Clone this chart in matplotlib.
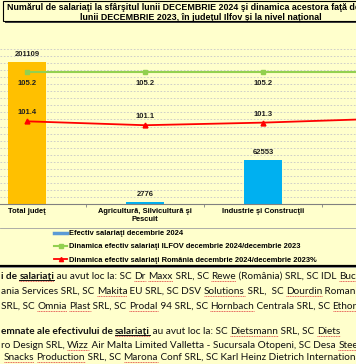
import numpy as np
import matplotlib
matplotlib.use("Agg")
import matplotlib.pyplot as plt
from matplotlib.patches import Rectangle
from matplotlib.lines import Line2D

# date
categorii = ["Total judeţ", "Agricultură, Silvicultură şi\nPescuit",
             "Industrie şi Construcţii", "Servicii"]
efectiv_2024 = [201109, 2776, 62553, 135780]
dinamica_ilfov = [105.2, 105.2, 105.2, 105.2]
dinamica_romania = [101.4, 101.1, 101.3, 101.6]

titlu = ["Numărul de salariaţi la sfârşitul lunii DECEMBRIE 2024 şi dinamica acestora faţă de",
         "lunii DECEMBRIE 2023, în judeţul Ilfov şi la nivel naţional"]
legenda = ["Efectiv salariaţi decembrie 2024",
           "Dinamica efectiv salariaţi ILFOV decembrie 2024/decembrie 2023",
           "Dinamica efectiv salariaţi România decembrie 2024/decembrie 2023%"]

# text din document: (text, bold, subliniat, corector)
randuri = [
    [("i de ", 1, 0, 0), ("salariaţi", 1, 1, 1), (" au avut loc la: SC ", 0, 0, 0), ("Dr", 0, 0, 1),
     (" ", 0, 0, 0), ("Maxx", 0, 0, 1), (" SRL, SC ", 0, 0, 0), ("Rewe", 0, 0, 1),
     (" (România) SRL, SC IDL ", 0, 0, 0), ("Buch", 0, 0, 1)],
    [("ania Services SRL, SC ", 0, 0, 0), ("Makita", 0, 0, 1), (" EU SRL, SC DSV ", 0, 0, 0),
     ("Solutions", 0, 0, 1), (" SRL,  SC ", 0, 0, 0), ("Dourdin", 0, 0, 1), (" Romani", 0, 0, 0)],
    [("SRL, SC ", 0, 0, 0), ("Omnia", 0, 0, 1), (" ", 0, 0, 0), ("Plast", 0, 0, 1),
     (" SRL, SC ", 0, 0, 0), ("Prodal", 0, 0, 1), (" 94 SRL, SC ", 0, 0, 0), ("Hornbach", 0, 0, 1),
     (" Centrala SRL, SC ", 0, 0, 0), ("Ethor", 0, 0, 1), (" Se", 0, 0, 0)],
    [("emnate ale efectivului de ", 1, 0, 0), ("salariaţi", 1, 1, 1), (" au avut loc la: SC ", 0, 0, 0),
     ("Dietsmann", 0, 0, 1), (" SRL, SC ", 0, 0, 0), ("Diets", 0, 0, 1)],
    [("ro Design SRL, ", 0, 0, 0), ("Wizz", 0, 0, 1),
     (" Air Malta Limited Valletta - Sucursala Otopeni, SC Desa ", 0, 0, 0), ("Steel", 0, 0, 1)],
    [(" ", 0, 0, 0), ("Snacks", 0, 0, 1), (" ", 0, 0, 0), ("Production", 0, 0, 1),
     (" SRL, SC ", 0, 0, 0), ("Marona", 0, 0, 1), (" Conf SRL, SC Karl Heinz Dietrich International", 0, 0, 0)],
]
baze = [279, 294, 309, 334, 348, 360]

W, H = 356, 364
fond = "#FFFFCC"
fig = plt.figure(figsize=(W / 100, H / 100), dpi=100, facecolor=fond)
renderer = fig.canvas.get_renderer()

bg = fig.add_axes([0, 0, 1, 1], zorder=0)
bg.set_xlim(0, W)
bg.set_ylim(H, 0)
bg.axis("off")

# caseta titlu
bg.add_patch(Rectangle((5, 3), 400, 20, facecolor="#404040", edgecolor="none"))
bg.add_patch(Rectangle((3, 1), 400, 20, facecolor=fond, edgecolor="black", lw=0.8))
bg.text(7, 8, titlu[0], ha="left", va="center", fontsize=6.4,
        fontweight="bold", family="Liberation Sans")
bg.text(201, 17.3, titlu[1], ha="center", va="center", fontsize=6.4,
        fontweight="bold", family="Liberation Sans")

# linii chenar grafic
bg.plot([0, W], [227.5, 227.5], color="#A0A0A0", lw=0.6)
bg.plot([0, W], [265.5, 265.5], color="black", lw=1.6)
bg.plot([0, W], [267.3, 267.3], color="#909090", lw=0.7)

# grafic
ax = fig.add_axes([0, (H - 204) / H, 1, 155 / H])
ax.set_zorder(2)
ax.patch.set_visible(False)
x = np.arange(len(categorii))
culori = ["#FFC000"] + ["#00B0F0"] * (len(categorii) - 1)
bare = ax.bar(x, efectiv_2024, width=0.314, color=culori, zorder=2)
ax.set_ylim(0, 220000)
ax.set_yticks(np.arange(0, 220001, 10000))
ax.tick_params(axis="y", length=0, labelleft=False)
ax.grid(axis="y", color="#C8C8C8", ls=(0, (2, 2)), lw=0.6, zorder=0)
ax.set_axisbelow(True)
for s in ["top", "left", "right"]:
    ax.spines[s].set_visible(False)
ax.spines["bottom"].set_color("#808080")
ax.spines["bottom"].set_linewidth(0.8)
ax.set_xticks(x)
ax.set_xticklabels(categorii, fontsize=5.4, fontweight="bold", family="Liberation Sans",
                   linespacing=1.15)
ax.set_xticks(x[:-1] + 0.5, minor=True)
ax.tick_params(axis="x", which="major", length=0, pad=3)
ax.tick_params(axis="x", which="minor", length=2, color="#808080", width=0.6)
for b, v in zip(bare, efectiv_2024):
    ax.annotate(str(v), (b.get_x() + b.get_width() / 2, v), xytext=(0, 3),
                textcoords="offset points", ha="center", va="bottom", fontsize=5.5,
                fontweight="bold", family="Liberation Sans", color="#202020")

ax2 = ax.twinx()
ax2.set_zorder(3)
ax2.patch.set_visible(False)
ax2.set_ylim(95, 107)
ax2.set_yticks([])
for s in ["top", "left", "right", "bottom"]:
    ax2.spines[s].set_visible(False)
lg, = ax2.plot(x, dinamica_ilfov, color="#92D050", lw=1.5, marker="s", ms=3)
lr, = ax2.plot(x, dinamica_romania, color="#FF0000", lw=1.3, marker="^", ms=3.5)
for xi, v in zip(x, dinamica_ilfov):
    ax2.annotate(f"{v:.1f}", (xi, v), xytext=(0, -5.5), textcoords="offset points",
                 ha="center", va="top", fontsize=5.5, fontweight="bold",
                 family="Liberation Sans", color="#202020")
for xi, v in zip(x, dinamica_romania):
    ax2.annotate(f"{v:.1f}", (xi, v), xytext=(0, 3.5), textcoords="offset points",
                 ha="center", va="bottom", fontsize=5.5, fontweight="bold",
                 family="Liberation Sans", color="#202020")
# doar o parte din grafic e vizibila (captura decupata)
ax.set_xlim(-0.229, 2.788)

handles = [Line2D([], [], color="#5B9BD5", lw=2.5),
           Line2D([], [], color="#92D050", lw=1.5, marker="s", ms=2.5),
           Line2D([], [], color="#FF0000", lw=1.3, marker="^", ms=3)]
leg = fig.legend(handles, legenda, loc="upper left", bbox_to_anchor=(54 / W, 1 - 230 / H),
                 frameon=False, borderpad=0, borderaxespad=0, handlelength=1.75,
                 handletextpad=0.25, labelspacing=0.8,
                 prop={"family": "Liberation Sans", "weight": "bold", "size": 5.4})

# text document sub grafic
def latime(s, bold, size):
    def w(t):
        tt = bg.text(0, 0, t, fontsize=size, family="Lato",
                     fontweight="bold" if bold else "normal")
        r = tt.get_window_extent(renderer).width
        tt.remove()
        return r
    return w(s + ".") - w(".")

marime = 10
ref = latime("".join(s[0] for s in randuri[0]), 0, marime)
marime = marime * 358 / ref

for segs, yb in zip(randuri, baze):
    xc = 1
    for txt, bold, sub, cor in segs:
        bg.text(xc, yb, txt, fontsize=marime, family="Lato", va="baseline",
                fontweight="bold" if bold else "normal", color="#111111")
        w = latime(txt, bold, marime)
        x0 = xc + (w - latime(txt.lstrip(), bold, marime)) if txt != txt.lstrip() else xc
        if sub:
            bg.plot([x0, xc + w], [yb + 1.2, yb + 1.2], color="#111111", lw=0.7)
        if cor:
            bg.plot([x0, xc + w], [yb + 2.4, yb + 2.4], color="#E04040", lw=0.6,
                    ls=(0, (1.2, 0.8)))
        xc += w

fig.savefig("out.png", dpi=100, facecolor=fond)
